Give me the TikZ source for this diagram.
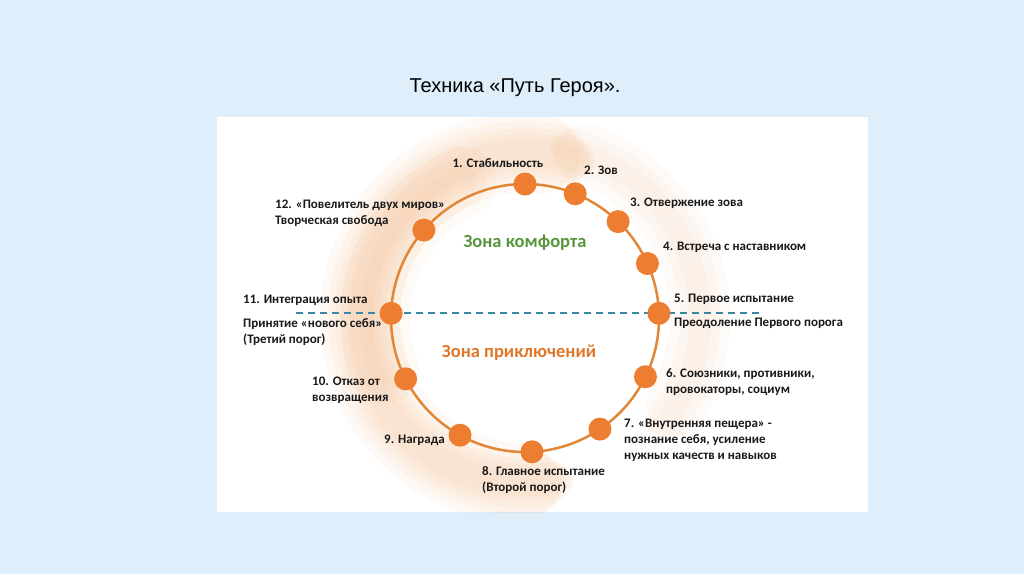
\documentclass[tikz,border=0pt]{standalone}
\usepackage{fontspec}
\setmainfont{Carlito}
\newfontfamily\titlefont{Liberation Sans}
\usetikzlibrary{positioning}

\definecolor{bgblue}{RGB}{222,238,251}
\definecolor{dotorange}{RGB}{237,125,49}
\definecolor{ringorange}{RGB}{226,135,56}
\definecolor{glow}{RGB}{244,170,110}
\definecolor{dashblue}{RGB}{58,136,168}
\definecolor{zonegreen}{RGB}{88,150,62}
\definecolor{zoneorange}{RGB}{224,120,42}

\tikzstyle{stage} = [circle, fill=dotorange, inner sep=0pt, minimum size=23pt]
\tikzstyle{lbl} = [font=\fontsize{13}{16}\selectfont\bfseries, align=left, inner sep=0pt, text=black!90]
\tikzstyle{zone} = [font=\fontsize{18.5}{20}\selectfont\bfseries, inner sep=0pt]

\begin{document}
\begin{tikzpicture}[x=1pt,y=-1pt]
\useasboundingbox (0,0) rectangle (1024,574);
\fill[bgblue] (0,0) rectangle (1024,574);
\fill[white] (217,117) rectangle (868,512);

\node[font=\titlefont\fontsize{20}{24}\selectfont, inner sep=0pt] (title) at (515,88) {Техника «Путь Героя».};

% soft swirl behind the ring
\coordinate (c) at (525,318);
\begin{scope}[line cap=round]
\clip (217,117) rectangle (868,512);
\foreach \w/\s/\e in {80/-85/-268,64/-80/-272,50/-76/-276,38/-72/-280,26/-70/-282}
  \draw[glow, opacity=0.07, line width=\w pt] ([shift={(\s:165)}]c) arc (\s:\e:165);
\foreach \w in {70,50,30}
  \draw[glow, opacity=0.06, line width=\w pt] ([shift={(-115:150)}]c) arc (-115:-200:150);
\foreach \w/\s/\e in {60/-70/30,40/-75/35,22/-78/40}
  \draw[glow, opacity=0.05, line width=\w pt] ([shift={(\s:175)}]c) arc (\s:\e:175);
\end{scope}

\draw[ringorange, line width=2.5pt] (c) circle (134);
\draw[dashblue, line width=1.5pt, dash pattern=on 7pt off 5pt] (296,313) coordinate (dl) -- (763,313) coordinate (dr);

\foreach \i/\a in {1/-90,2/-68,3/-46,4/-24,5/-2,6/26,7/56,8/87,9/119,10/153,11/-178,12/-139}
  \node[stage] (s\i) at ([shift={(\a:134)}]c) {};

\node[zone, text=zonegreen] (comf) at (525,243) {Зона комфорта};
\node[zone, text=zoneorange] (adv) at (519,353) {Зона приключений};

\node[lbl] (l1) at (498,163) {1. Стабильность};
\node[lbl, anchor=west] (l2) at (584,170) {2. Зов};
\node[lbl, anchor=west] (l3) at (630,203) {3. Отвержение зова};
\node[lbl, anchor=west] (l4) at (663,247) {4. Встреча с наставником};
\node[lbl, anchor=west] (l5) at (674,299) {5. Первое испытание};
\node[lbl, anchor=west] (l5b) at (674,323) {Преодоление Первого порога};
\node[lbl, anchor=west] (l6) at (666,382.5) {6. Союзники, противники,\\провокаторы, социум};
\node[lbl, anchor=west] (l7) at (624,440) {7. «Внутренняя пещера» -\\познание себя, усиление\\нужных качеств и навыков};
\node[lbl, anchor=west] (l8) at (482,480.5) {8. Главное испытание\\(Второй порог)};
\node[lbl, anchor=east] (l9) at (445,440) {9. Награда};
\node[lbl, anchor=west] (l10) at (312,390) {10. Отказ от\\возвращения};
\node[lbl, anchor=west] (l11) at (243,300) {11. Интеграция опыта};
\node[lbl, anchor=west] (l11b) at (243,332) {Принятие «нового себя»\\(Третий порог)};
\node[lbl, anchor=west] (l12) at (275,213) {12. «Повелитель двух миров»\\Творческая свобода};
\end{tikzpicture}
\end{document}
